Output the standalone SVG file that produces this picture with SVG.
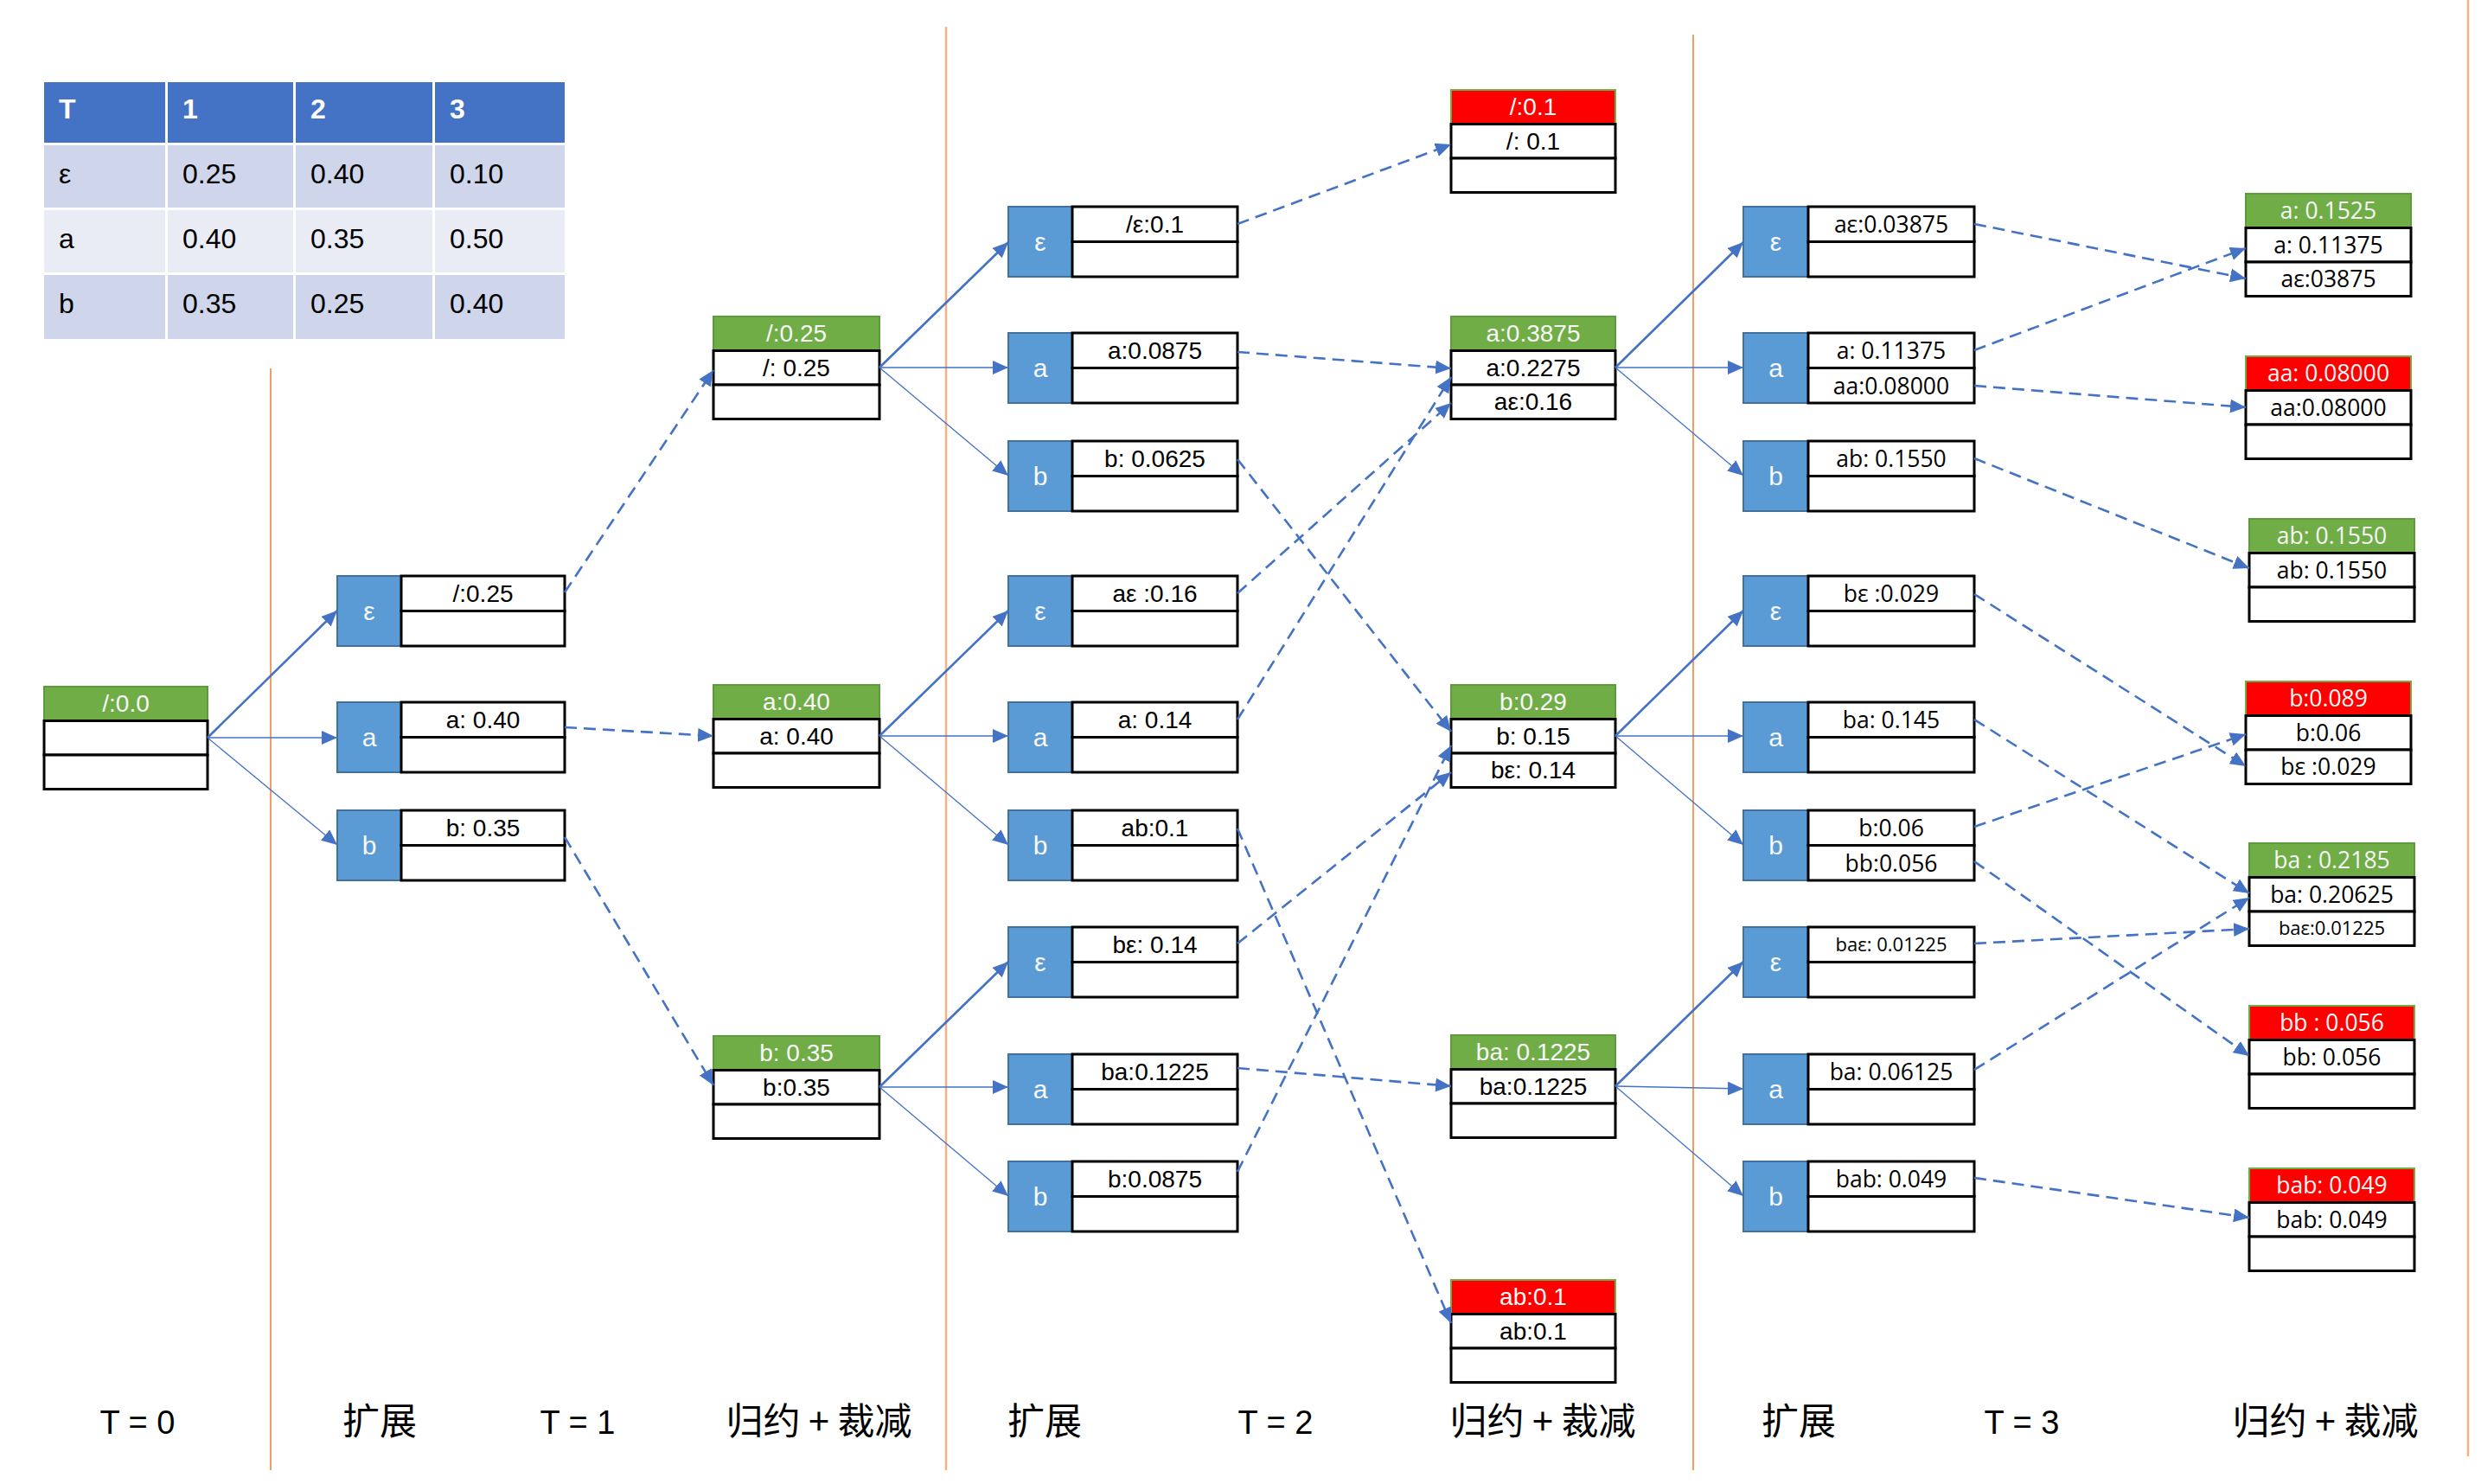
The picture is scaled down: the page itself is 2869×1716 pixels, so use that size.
<svg xmlns="http://www.w3.org/2000/svg" width="2869" height="1716" viewBox="0 0 2869 1716">
<style>
.row{fill:#fff;stroke:#000;stroke-width:3}
.hg{fill:#70AD47;stroke:#5E9B3C;stroke-width:2}
.hr{fill:#FF0000;stroke:#70AD47;stroke-width:2}
.blue{fill:#5B9BD5;stroke:#41719C;stroke-width:2}
.t{font-family:"Liberation Sans",Arial,sans-serif;font-size:28px;text-anchor:middle;fill:#000}
.s{font-family:"Open Sans","Liberation Sans",sans-serif;font-size:26.5px;text-anchor:middle;fill:#000}
.bl{font-size:30px}
.w{fill:#F8F8F8}
.sm{font-size:22px}
.sol{stroke:#4472C4;fill:none}
.thick{stroke-width:2.6}
.thin{stroke-width:1.3}
.dash{stroke:#4472C4;stroke-width:2.6;stroke-dasharray:14 8;fill:none}
.vl{stroke:#ED7D31;stroke-width:1.5}
.vl2{stroke:#F4B183;stroke-width:2.5}
.th{fill:#4472C4}
.c1{fill:#CFD5EA}
.c2{fill:#E9EBF5}
.tt{font-family:"Liberation Sans",Arial,sans-serif;font-size:32px;fill:#000}
.tb{font-weight:bold;fill:#fff}
.lab{font-family:"Liberation Sans",Arial,sans-serif;font-size:38px;text-anchor:middle;fill:#000}
.cjk{font-family:"Noto Sans CJK SC","Liberation Sans",sans-serif;font-size:43px;text-anchor:middle;fill:#000}
</style>
<defs>
<marker id="ah" markerUnits="userSpaceOnUse" markerWidth="20" markerHeight="16" refX="18" refY="8" orient="auto">
<path d="M0,0 L18,8 L0,16 z" fill="#4472C4"/>
</marker>
</defs>
<rect width="2869" height="1716" fill="#fff"/>

<g id="separators">
<line class="vl" x1="313" y1="426" x2="313" y2="1700"/>
<line class="vl2" x1="1094" y1="31" x2="1094" y2="1700"/>
<line class="vl" x1="1958" y1="40" x2="1958" y2="1700"/>
<line class="vl2" x1="2854" y1="0" x2="2854" y2="1684"/>
</g>

<g id="table">
<rect class="th" x="51" y="95" width="140" height="70"/>
<rect class="th" x="194" y="95" width="145" height="70"/>
<rect class="th" x="342" y="95" width="158" height="70"/>
<rect class="th" x="503" y="95" width="150" height="70"/>
<rect class="c1" x="51" y="168" width="140" height="72"/>
<rect class="c1" x="194" y="168" width="145" height="72"/>
<rect class="c1" x="342" y="168" width="158" height="72"/>
<rect class="c1" x="503" y="168" width="150" height="72"/>
<rect class="c2" x="51" y="243" width="140" height="72"/>
<rect class="c2" x="194" y="243" width="145" height="72"/>
<rect class="c2" x="342" y="243" width="158" height="72"/>
<rect class="c2" x="503" y="243" width="150" height="72"/>
<rect class="c1" x="51" y="318" width="140" height="74"/>
<rect class="c1" x="194" y="318" width="145" height="74"/>
<rect class="c1" x="342" y="318" width="158" height="74"/>
<rect class="c1" x="503" y="318" width="150" height="74"/>
<text class="tt tb" x="68" y="137">T</text>
<text class="tt tb" x="211" y="137">1</text>
<text class="tt tb" x="359" y="137">2</text>
<text class="tt tb" x="520" y="137">3</text>
<text class="tt" x="68" y="212">ε</text>
<text class="tt" x="211" y="212">0.25</text>
<text class="tt" x="359" y="212">0.40</text>
<text class="tt" x="520" y="212">0.10</text>
<text class="tt" x="68" y="287">a</text>
<text class="tt" x="211" y="287">0.40</text>
<text class="tt" x="359" y="287">0.35</text>
<text class="tt" x="520" y="287">0.50</text>
<text class="tt" x="68" y="362">b</text>
<text class="tt" x="211" y="362">0.35</text>
<text class="tt" x="359" y="362">0.25</text>
<text class="tt" x="520" y="362">0.40</text>
</g>

<!-- T=0 -->
<g id="n-root">
<rect class="hg" x="51" y="794" width="189" height="39.5"/>
<rect class="row" x="51" y="833.5" width="189" height="39.5"/>
<rect class="row" x="51" y="873" width="189" height="39.5"/>
<text class="t w" x="145.5" y="823">/:0.0</text>
</g>

<!-- T=1 expansion -->
<g id="e1-eps">
<rect class="blue" x="390" y="666" width="74" height="81"/>
<rect class="row" x="464" y="666" width="189" height="40.5"/>
<rect class="row" x="464" y="706.5" width="189" height="40.5"/>
<text class="t w bl" x="427" y="717">ε</text>
<text class="t" x="558.5" y="696">/:0.25</text>
</g>
<g id="e1-a">
<rect class="blue" x="390" y="812" width="74" height="81"/>
<rect class="row" x="464" y="812" width="189" height="40.5"/>
<rect class="row" x="464" y="852.5" width="189" height="40.5"/>
<text class="t w bl" x="427" y="863">a</text>
<text class="t" x="558.5" y="842">a: 0.40</text>
</g>
<g id="e1-b">
<rect class="blue" x="390" y="937" width="74" height="81"/>
<rect class="row" x="464" y="937" width="189" height="40.5"/>
<rect class="row" x="464" y="977.5" width="189" height="40.5"/>
<text class="t w bl" x="427" y="988">b</text>
<text class="t" x="558.5" y="967">b: 0.35</text>
</g>

<!-- T=1 reduction -->
<g id="r1-slash">
<rect class="hg" x="825" y="366" width="192" height="39.5"/>
<rect class="row" x="825" y="405.5" width="192" height="39.5"/>
<rect class="row" x="825" y="445" width="192" height="39.5"/>
<text class="t w" x="921" y="395">/:0.25</text>
<text class="t" x="921" y="434.5">/: 0.25</text>
</g>
<g id="r1-a">
<rect class="hg" x="825" y="792" width="192" height="39.5"/>
<rect class="row" x="825" y="831.5" width="192" height="39.5"/>
<rect class="row" x="825" y="871" width="192" height="39.5"/>
<text class="t w" x="921" y="821">a:0.40</text>
<text class="t" x="921" y="860.5">a: 0.40</text>
</g>
<g id="r1-b">
<rect class="hg" x="825" y="1198" width="192" height="39.5"/>
<rect class="row" x="825" y="1237.5" width="192" height="39.5"/>
<rect class="row" x="825" y="1277" width="192" height="39.5"/>
<text class="t w" x="921" y="1227">b: 0.35</text>
<text class="t" x="921" y="1266.5">b:0.35</text>
</g>

<!-- T=2 expansion -->
<g id="e2-1">
<rect class="blue" x="1166" y="239" width="74" height="81"/>
<rect class="row" x="1240" y="239" width="191" height="40.5"/>
<rect class="row" x="1240" y="279.5" width="191" height="40.5"/>
<text class="t w bl" x="1203" y="290">ε</text>
<text class="t" x="1335.5" y="269">/ε:0.1</text>
</g>
<g id="e2-2">
<rect class="blue" x="1166" y="385" width="74" height="81"/>
<rect class="row" x="1240" y="385" width="191" height="40.5"/>
<rect class="row" x="1240" y="425.5" width="191" height="40.5"/>
<text class="t w bl" x="1203" y="436">a</text>
<text class="t" x="1335.5" y="415">a:0.0875</text>
</g>
<g id="e2-3">
<rect class="blue" x="1166" y="510" width="74" height="81"/>
<rect class="row" x="1240" y="510" width="191" height="40.5"/>
<rect class="row" x="1240" y="550.5" width="191" height="40.5"/>
<text class="t w bl" x="1203" y="561">b</text>
<text class="t" x="1335.5" y="540">b: 0.0625</text>
</g>
<g id="e2-4">
<rect class="blue" x="1166" y="666" width="74" height="81"/>
<rect class="row" x="1240" y="666" width="191" height="40.5"/>
<rect class="row" x="1240" y="706.5" width="191" height="40.5"/>
<text class="t w bl" x="1203" y="717">ε</text>
<text class="t" x="1335.5" y="696">aε :0.16</text>
</g>
<g id="e2-5">
<rect class="blue" x="1166" y="812" width="74" height="81"/>
<rect class="row" x="1240" y="812" width="191" height="40.5"/>
<rect class="row" x="1240" y="852.5" width="191" height="40.5"/>
<text class="t w bl" x="1203" y="863">a</text>
<text class="t" x="1335.5" y="842">a: 0.14</text>
</g>
<g id="e2-6">
<rect class="blue" x="1166" y="937" width="74" height="81"/>
<rect class="row" x="1240" y="937" width="191" height="40.5"/>
<rect class="row" x="1240" y="977.5" width="191" height="40.5"/>
<text class="t w bl" x="1203" y="988">b</text>
<text class="t" x="1335.5" y="967">ab:0.1</text>
</g>
<g id="e2-7">
<rect class="blue" x="1166" y="1072" width="74" height="81"/>
<rect class="row" x="1240" y="1072" width="191" height="40.5"/>
<rect class="row" x="1240" y="1112.5" width="191" height="40.5"/>
<text class="t w bl" x="1203" y="1123">ε</text>
<text class="t" x="1335.5" y="1102">bε: 0.14</text>
</g>
<g id="e2-8">
<rect class="blue" x="1166" y="1219" width="74" height="81"/>
<rect class="row" x="1240" y="1219" width="191" height="40.5"/>
<rect class="row" x="1240" y="1259.5" width="191" height="40.5"/>
<text class="t w bl" x="1203" y="1270">a</text>
<text class="t" x="1335.5" y="1249">ba:0.1225</text>
</g>
<g id="e2-9">
<rect class="blue" x="1166" y="1343" width="74" height="81"/>
<rect class="row" x="1240" y="1343" width="191" height="40.5"/>
<rect class="row" x="1240" y="1383.5" width="191" height="40.5"/>
<text class="t w bl" x="1203" y="1394">b</text>
<text class="t" x="1335.5" y="1373">b:0.0875</text>
</g>

<!-- T=2 reduction -->
<g id="r2-slash">
<rect class="hr" x="1678" y="104" width="190" height="39.5"/>
<rect class="row" x="1678" y="143.5" width="190" height="39.5"/>
<rect class="row" x="1678" y="183" width="190" height="39.5"/>
<text class="t w" x="1773" y="133">/:0.1</text>
<text class="t" x="1773" y="172.5">/: 0.1</text>
</g>
<g id="r2-a">
<rect class="hg" x="1678" y="366" width="190" height="39.5"/>
<rect class="row" x="1678" y="405.5" width="190" height="39.5"/>
<rect class="row" x="1678" y="445" width="190" height="39.5"/>
<text class="t w" x="1773" y="395">a:0.3875</text>
<text class="t" x="1773" y="434.5">a:0.2275</text>
<text class="t" x="1773" y="474">aε:0.16</text>
</g>
<g id="r2-b">
<rect class="hg" x="1678" y="792" width="190" height="39.5"/>
<rect class="row" x="1678" y="831.5" width="190" height="39.5"/>
<rect class="row" x="1678" y="871" width="190" height="39.5"/>
<text class="t w" x="1773" y="821">b:0.29</text>
<text class="t" x="1773" y="860.5">b: 0.15</text>
<text class="t" x="1773" y="900">bε: 0.14</text>
</g>
<g id="r2-ba">
<rect class="hg" x="1678" y="1197" width="190" height="39.5"/>
<rect class="row" x="1678" y="1236.5" width="190" height="39.5"/>
<rect class="row" x="1678" y="1276" width="190" height="39.5"/>
<text class="t w" x="1773" y="1226">ba: 0.1225</text>
<text class="t" x="1773" y="1265.5">ba:0.1225</text>
</g>
<g id="r2-ab">
<rect class="hr" x="1678" y="1480" width="190" height="39.5"/>
<rect class="row" x="1678" y="1519.5" width="190" height="39.5"/>
<rect class="row" x="1678" y="1559" width="190" height="39.5"/>
<text class="t w" x="1773" y="1509">ab:0.1</text>
<text class="t" x="1773" y="1548.5">ab:0.1</text>
</g>

<!-- T=3 expansion -->
<g id="e3-1">
<rect class="blue" x="2016" y="239" width="75" height="81"/>
<rect class="row" x="2091" y="239" width="192" height="40.5"/>
<rect class="row" x="2091" y="279.5" width="192" height="40.5"/>
<text class="t w bl" x="2053.5" y="290">ε</text>
<text class="s" x="2187" y="269">aε:0.03875</text>
</g>
<g id="e3-2">
<rect class="blue" x="2016" y="385" width="75" height="81"/>
<rect class="row" x="2091" y="385" width="192" height="40.5"/>
<rect class="row" x="2091" y="425.5" width="192" height="40.5"/>
<text class="t w bl" x="2053.5" y="436">a</text>
<text class="s" x="2187" y="415">a: 0.11375</text>
<text class="s" x="2187" y="455.5">aa:0.08000</text>
</g>
<g id="e3-3">
<rect class="blue" x="2016" y="510" width="75" height="81"/>
<rect class="row" x="2091" y="510" width="192" height="40.5"/>
<rect class="row" x="2091" y="550.5" width="192" height="40.5"/>
<text class="t w bl" x="2053.5" y="561">b</text>
<text class="s" x="2187" y="540">ab: 0.1550</text>
</g>
<g id="e3-4">
<rect class="blue" x="2016" y="666" width="75" height="81"/>
<rect class="row" x="2091" y="666" width="192" height="40.5"/>
<rect class="row" x="2091" y="706.5" width="192" height="40.5"/>
<text class="t w bl" x="2053.5" y="717">ε</text>
<text class="s" x="2187" y="696">bε :0.029</text>
</g>
<g id="e3-5">
<rect class="blue" x="2016" y="812" width="75" height="81"/>
<rect class="row" x="2091" y="812" width="192" height="40.5"/>
<rect class="row" x="2091" y="852.5" width="192" height="40.5"/>
<text class="t w bl" x="2053.5" y="863">a</text>
<text class="s" x="2187" y="842">ba: 0.145</text>
</g>
<g id="e3-6">
<rect class="blue" x="2016" y="937" width="75" height="81"/>
<rect class="row" x="2091" y="937" width="192" height="40.5"/>
<rect class="row" x="2091" y="977.5" width="192" height="40.5"/>
<text class="t w bl" x="2053.5" y="988">b</text>
<text class="s" x="2187" y="967">b:0.06</text>
<text class="s" x="2187" y="1007.5">bb:0.056</text>
</g>
<g id="e3-7">
<rect class="blue" x="2016" y="1072" width="75" height="81"/>
<rect class="row" x="2091" y="1072" width="192" height="40.5"/>
<rect class="row" x="2091" y="1112.5" width="192" height="40.5"/>
<text class="t w bl" x="2053.5" y="1123">ε</text>
<text class="s sm" x="2187" y="1100">baε: 0.01225</text>
</g>
<g id="e3-8">
<rect class="blue" x="2016" y="1219" width="75" height="81"/>
<rect class="row" x="2091" y="1219" width="192" height="40.5"/>
<rect class="row" x="2091" y="1259.5" width="192" height="40.5"/>
<text class="t w bl" x="2053.5" y="1270">a</text>
<text class="s" x="2187" y="1249">ba: 0.06125</text>
</g>
<g id="e3-9">
<rect class="blue" x="2016" y="1343" width="75" height="81"/>
<rect class="row" x="2091" y="1343" width="192" height="40.5"/>
<rect class="row" x="2091" y="1383.5" width="192" height="40.5"/>
<text class="t w bl" x="2053.5" y="1394">b</text>
<text class="s" x="2187" y="1373">bab: 0.049</text>
</g>

<!-- T=3 reduction -->
<g id="r3-a">
<rect class="hg" x="2597" y="224" width="191" height="39.5"/>
<rect class="row" x="2597" y="263.5" width="191" height="39.5"/>
<rect class="row" x="2597" y="303" width="191" height="39.5"/>
<text class="s w" x="2692.5" y="253">a: 0.1525</text>
<text class="s" x="2692.5" y="292.5">a: 0.11375</text>
<text class="s" x="2692.5" y="332">aε:03875</text>
</g>
<g id="r3-aa">
<rect class="hr" x="2597" y="412" width="191" height="39.5"/>
<rect class="row" x="2597" y="451.5" width="191" height="39.5"/>
<rect class="row" x="2597" y="491" width="191" height="39.5"/>
<text class="s w" x="2692.5" y="441">aa: 0.08000</text>
<text class="s" x="2692.5" y="480.5">aa:0.08000</text>
</g>
<g id="r3-ab">
<rect class="hg" x="2601" y="600" width="191" height="39.5"/>
<rect class="row" x="2601" y="639.5" width="191" height="39.5"/>
<rect class="row" x="2601" y="679" width="191" height="39.5"/>
<text class="s w" x="2696.5" y="629">ab: 0.1550</text>
<text class="s" x="2696.5" y="668.5">ab: 0.1550</text>
</g>
<g id="r3-b">
<rect class="hr" x="2597" y="788" width="191" height="39.5"/>
<rect class="row" x="2597" y="827.5" width="191" height="39.5"/>
<rect class="row" x="2597" y="867" width="191" height="39.5"/>
<text class="s w" x="2692.5" y="817">b:0.089</text>
<text class="s" x="2692.5" y="856.5">b:0.06</text>
<text class="s" x="2692.5" y="896">bε :0.029</text>
</g>
<g id="r3-ba">
<rect class="hg" x="2601" y="975" width="191" height="39.5"/>
<rect class="row" x="2601" y="1014.5" width="191" height="39.5"/>
<rect class="row" x="2601" y="1054" width="191" height="39.5"/>
<text class="s w" x="2696.5" y="1004">ba : 0.2185</text>
<text class="s" x="2696.5" y="1043.5">ba: 0.20625</text>
<text class="s sm" x="2696.5" y="1081">baε:0.01225</text>
</g>
<g id="r3-bb">
<rect class="hr" x="2601" y="1163" width="191" height="39.5"/>
<rect class="row" x="2601" y="1202.5" width="191" height="39.5"/>
<rect class="row" x="2601" y="1242" width="191" height="39.5"/>
<text class="s w" x="2696.5" y="1192">bb : 0.056</text>
<text class="s" x="2696.5" y="1231.5">bb: 0.056</text>
</g>
<g id="r3-bab">
<rect class="hr" x="2601" y="1351" width="191" height="39.5"/>
<rect class="row" x="2601" y="1390.5" width="191" height="39.5"/>
<rect class="row" x="2601" y="1430" width="191" height="39.5"/>
<text class="s w" x="2696.5" y="1380">bab: 0.049</text>
<text class="s" x="2696.5" y="1419.5">bab: 0.049</text>
</g>

<g id="connectors" marker-end="url(#ah)">
<!-- solid expansions -->
<line class="sol thick" x1="240" y1="853" x2="390" y2="706"/>
<line class="sol thin" x1="240" y1="853" x2="390" y2="853"/>
<line class="sol thin" x1="240" y1="853" x2="390" y2="977"/>
<line class="sol thick" x1="1017" y1="425" x2="1166" y2="280"/>
<line class="sol thin" x1="1017" y1="425" x2="1166" y2="425"/>
<line class="sol thin" x1="1017" y1="425" x2="1166" y2="550"/>
<line class="sol thick" x1="1017" y1="851" x2="1166" y2="706"/>
<line class="sol thin" x1="1017" y1="851" x2="1166" y2="851"/>
<line class="sol thin" x1="1017" y1="851" x2="1166" y2="977"/>
<line class="sol thick" x1="1017" y1="1257" x2="1166" y2="1112"/>
<line class="sol thin" x1="1017" y1="1257" x2="1166" y2="1257"/>
<line class="sol thin" x1="1017" y1="1257" x2="1166" y2="1383"/>
<line class="sol thick" x1="1868" y1="425" x2="2016" y2="280"/>
<line class="sol thin" x1="1868" y1="425" x2="2016" y2="425"/>
<line class="sol thin" x1="1868" y1="425" x2="2016" y2="550"/>
<line class="sol thick" x1="1868" y1="851" x2="2016" y2="706"/>
<line class="sol thin" x1="1868" y1="851" x2="2016" y2="851"/>
<line class="sol thin" x1="1868" y1="851" x2="2016" y2="977"/>
<line class="sol thick" x1="1868" y1="1256" x2="2016" y2="1112"/>
<line class="sol thin" x1="1868" y1="1256" x2="2016" y2="1259"/>
<line class="sol thin" x1="1868" y1="1256" x2="2016" y2="1383"/>
<!-- dashed reductions T1 -->
<line class="dash" x1="653" y1="685" x2="825" y2="428"/>
<line class="dash" x1="653" y1="841" x2="825" y2="851"/>
<line class="dash" x1="653" y1="968" x2="825" y2="1255"/>
<!-- dashed reductions T2 -->
<line class="dash" x1="1431" y1="259" x2="1678" y2="167"/>
<line class="dash" x1="1431" y1="407" x2="1678" y2="426"/>
<line class="dash" x1="1431" y1="531" x2="1678" y2="846"/>
<line class="dash" x1="1431" y1="686" x2="1678" y2="466"/>
<line class="dash" x1="1431" y1="832" x2="1678" y2="436"/>
<line class="dash" x1="1431" y1="958" x2="1678" y2="1530"/>
<line class="dash" x1="1431" y1="1091" x2="1678" y2="893"/>
<line class="dash" x1="1431" y1="1235" x2="1678" y2="1256"/>
<line class="dash" x1="1431" y1="1355" x2="1678" y2="862"/>
<!-- dashed reductions T3 -->
<line class="dash" x1="2283" y1="259" x2="2597" y2="322"/>
<line class="dash" x1="2283" y1="405" x2="2597" y2="287"/>
<line class="dash" x1="2283" y1="446" x2="2597" y2="471"/>
<line class="dash" x1="2283" y1="530" x2="2601" y2="657"/>
<line class="dash" x1="2283" y1="687" x2="2597" y2="886"/>
<line class="dash" x1="2283" y1="832" x2="2601" y2="1033"/>
<line class="dash" x1="2283" y1="956" x2="2597" y2="849"/>
<line class="dash" x1="2283" y1="996" x2="2601" y2="1221"/>
<line class="dash" x1="2283" y1="1091" x2="2601" y2="1074"/>
<line class="dash" x1="2283" y1="1237" x2="2601" y2="1038"/>
<line class="dash" x1="2283" y1="1362" x2="2601" y2="1408"/>
</g>

<g id="labels">
<text class="lab" x="159" y="1658">T = 0</text>
<text class="cjk" x="439" y="1659">扩展</text>
<text class="lab" x="668" y="1658">T = 1</text>
<text class="cjk" x="947" y="1659">归约 + 裁减</text>
<text class="cjk" x="1208" y="1659">扩展</text>
<text class="lab" x="1475" y="1658">T = 2</text>
<text class="cjk" x="1784" y="1659">归约 + 裁减</text>
<text class="cjk" x="2080" y="1659">扩展</text>
<text class="lab" x="2338" y="1658">T = 3</text>
<text class="cjk" x="2689" y="1659">归约 + 裁减</text>
</g>
</svg>
